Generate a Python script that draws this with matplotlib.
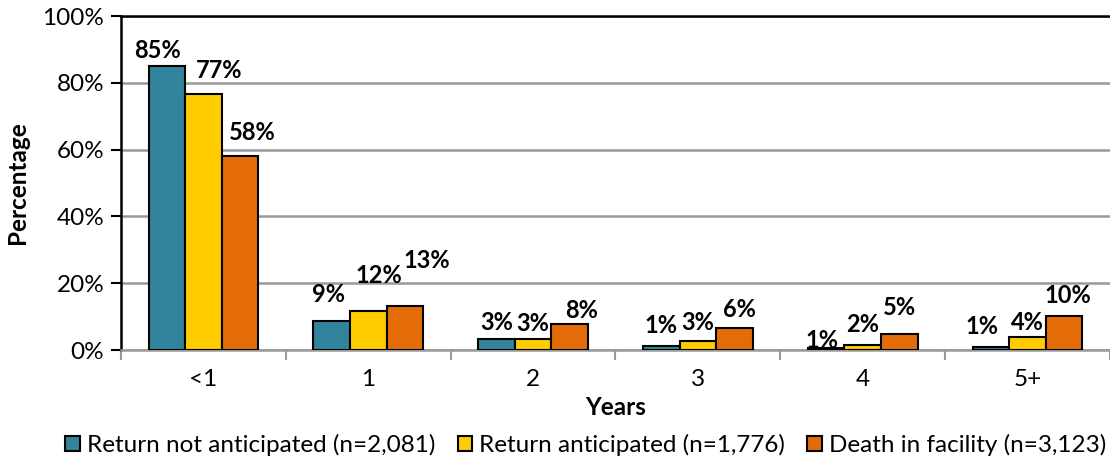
import numpy as np
import matplotlib.pyplot as plt

plt.rcParams['font.family'] = ['Lato', 'DejaVu Sans']

# data
years = ['<1', '1', '2', '3', '4', '5+']
not_anticipated = [85.1, 8.8, 3.3, 1.3, 0.5, 0.9]
anticipated = [76.6, 11.8, 3.4, 2.7, 1.6, 3.8]
death = [58.1, 13.1, 7.7, 6.5, 4.7, 10.1]
not_anticipated_lbl = ['85%', '9%', '3%', '1%', '1%', '1%']
anticipated_lbl = ['77%', '12%', '3%', '3%', '2%', '4%']
death_lbl = ['58%', '13%', '8%', '6%', '5%', '10%']
series_names = ['Return not anticipated (n=2,081)',
                'Return anticipated (n=1,776)',
                'Death in facility (n=3,123)']
colors = ['#31849B', '#FFCC00', '#E36C09']

# label nudges (pixels) like the hand-moved labels in the original
lbl_dx = [[-9, -3, 0, 0, -4, -9],
          [16, 11, 0, 0, 0, 0],
          [12, 22, 12, 5, 0, 4]]
lbl_dy = [[8, 19, 9, 13, 0, 13],
          [16, 28, 8, 11, 13, 7],
          [16, 38, 6, 11, 19, 13]]

fig = plt.figure(figsize=(11.1, 4.63), dpi=100)
ax = fig.add_axes([0.109, 0.244, 0.891, 0.721])

x = np.arange(len(years))
w = 0.222
series = [not_anticipated, anticipated, death]
labels = [not_anticipated_lbl, anticipated_lbl, death_lbl]
for i, (vals, lbls) in enumerate(zip(series, labels)):
    pos = x + (i - 1) * w
    bars = ax.bar(pos, vals, w, color=colors[i], edgecolor='black',
                  linewidth=1.5, label=series_names[i], zorder=3)
    for j, (b, l) in enumerate(zip(bars, lbls)):
        ax.annotate(l, (b.get_x() + b.get_width() / 2, b.get_height()),
                    xytext=(lbl_dx[i][j], lbl_dy[i][j]), textcoords='offset pixels',
                    ha='center', va='baseline', fontsize=17, fontweight='bold',
                    zorder=4)

ax.set_xlim(-0.5, len(years) - 0.5)
ax.set_ylim(0, 100)
ax.set_yticks(np.arange(0, 101, 20))
ax.set_yticklabels([f'{v}%' for v in range(0, 101, 20)], fontsize=17.5)
ax.yaxis.grid(True, color='#999999', linewidth=1.8, zorder=0)
ax.tick_params(axis='y', length=7, width=1.5, color='black', pad=5)

ax.set_xticks(x)
ax.set_xticklabels(years, fontsize=17.5)
ax.set_xticks(np.arange(-0.5, len(years), 1), minor=True)
ax.tick_params(axis='x', which='major', length=0, pad=14)
ax.tick_params(axis='x', which='minor', length=7, width=1.5, color='#999999')

for s in ['left', 'top']:
    ax.spines[s].set_color('black')
    ax.spines[s].set_linewidth(1.8)
ax.spines['bottom'].set_color('#999999')
ax.spines['bottom'].set_linewidth(1.8)
ax.spines['right'].set_visible(False)

ax.set_ylabel('Percentage', fontsize=17.5, fontweight='bold', labelpad=10)
ax.set_xlabel('Years', fontsize=17.5, fontweight='bold', labelpad=4)

ax.legend(loc='upper center', bbox_to_anchor=(0.47, -0.215), ncol=3, frameon=False,
          fontsize=17.5, handlelength=0.6, handleheight=0.6, handletextpad=0.3,
          columnspacing=0.9, borderpad=0)

fig.savefig('out.png', dpi=100)
